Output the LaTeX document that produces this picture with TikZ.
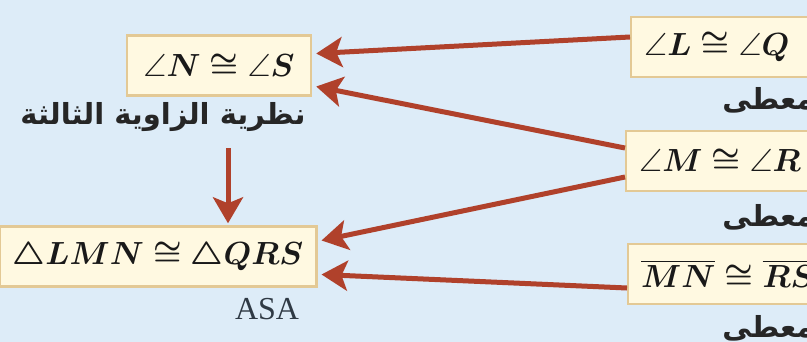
\RequirePackage{fix-cm}
\documentclass[tikz,border=0pt]{standalone}
\usepackage{amsmath,amssymb}
\usepackage{fontspec}
\usepackage{tikz}
\usetikzlibrary{
  arrows.meta,
  positioning,
}
\setmainfont{Liberation Serif}
\newfontfamily\arabicfont[Script=Arabic]{DejaVu Sans}
\TeXXeTstate=1

\definecolor{bgblue}{HTML}{DDECF8}
\definecolor{boxfill}{HTML}{FFF9E1}
\definecolor{boxline}{HTML}{E3C995}
\definecolor{arrowred}{HTML}{B0412B}
\definecolor{reasongray}{HTML}{2F3A45}

\newcommand{\stmtfont}{\fontsize{16}{19}\selectfont\boldmath\thickmuskip=4.5mu\relax}

\begin{document}
\begin{tikzpicture}[
  x=0.5pt, y=-0.5pt,
  every node/.style={font=\fontsize{17}{20}\selectfont},
  stmt/.style={
    rectangle, draw=boxline, line width=1.2pt,
    fill=boxfill, minimum height=30pt, inner xsep=6.5pt,
    text=black!90, font=\stmtfont,
  },
  given/.style={
    font=\arabicfont\bfseries\fontsize{14.5}{16}\selectfont,
    text=black!85, inner sep=0pt,
  },
  arrow/.style={-{Stealth[length=13pt, width=15pt, inset=3pt]}, line width=2.5pt, draw=arrowred},
]
  % Background
  \fill[bgblue] (0,0) rectangle (807,342);
  \useasboundingbox (0,0) rectangle (807,342);
  \clip (0,0) rectangle (807,342);

  % Conclusions on the left
  \node[stmt, minimum width=92pt] (ns) at (219,65.5) {$\angle N \cong \angle S$};
  \node[stmt, minimum width=154pt] (lmn) at (158,256.5) {$\triangle LMN \cong \triangle QRS$};

  % Reasons on the left
  \node[given] (third) at (163,117) {\beginR نظرية الزاوية الثالثة\endR};
  \node[below left=5pt and 9pt of lmn.south east, inner sep=0pt,
        font=\fontsize{16}{18}\selectfont, text=reasongray] (asa) {ASA};

  % Given statements on the right (they run past the edge)
  \node[stmt, anchor=west, text width=96pt, align=left] (lq) at (630,47) {$\angle L \cong \angle Q$};
  \node[stmt, anchor=west, text width=96pt, align=left] (mr) at (625,161) {$\angle M \cong \angle R$};
  \node[stmt, anchor=west, text width=96pt, align=left] (mnrs) at (627,274) {$\overline{MN} \cong \overline{RS}$};

  \node[given, anchor=west] (given1) at (722,100) {\beginR معطى\endR};
  \node[given, anchor=west] (given2) at (722,217) {\beginR معطى\endR};
  \node[given, anchor=west] (given3) at (722,328) {\beginR معطى\endR};

  % Arrows: givens -> conclusions
  \draw[arrow] ([yshift=5pt]lq.west) -- ([yshift=6pt, xshift=2pt]ns.east);
  \draw[arrow] ([yshift=6.5pt]mr.west) -- ([yshift=-10.5pt, xshift=2pt]ns.east);
  \draw[arrow] ([yshift=-8pt]mr.west) -- ([yshift=8pt, xshift=2pt]lmn.east);
  \draw[arrow] ([yshift=-7pt]mnrs.west) -- ([yshift=-9pt, xshift=2pt]lmn.east);

  % Third angle theorem -> triangles
  \coordinate (drop) at (228,148);
  \draw[arrow] (drop) -- ([yshift=1pt]drop |- lmn.north);

\end{tikzpicture}
\end{document}
